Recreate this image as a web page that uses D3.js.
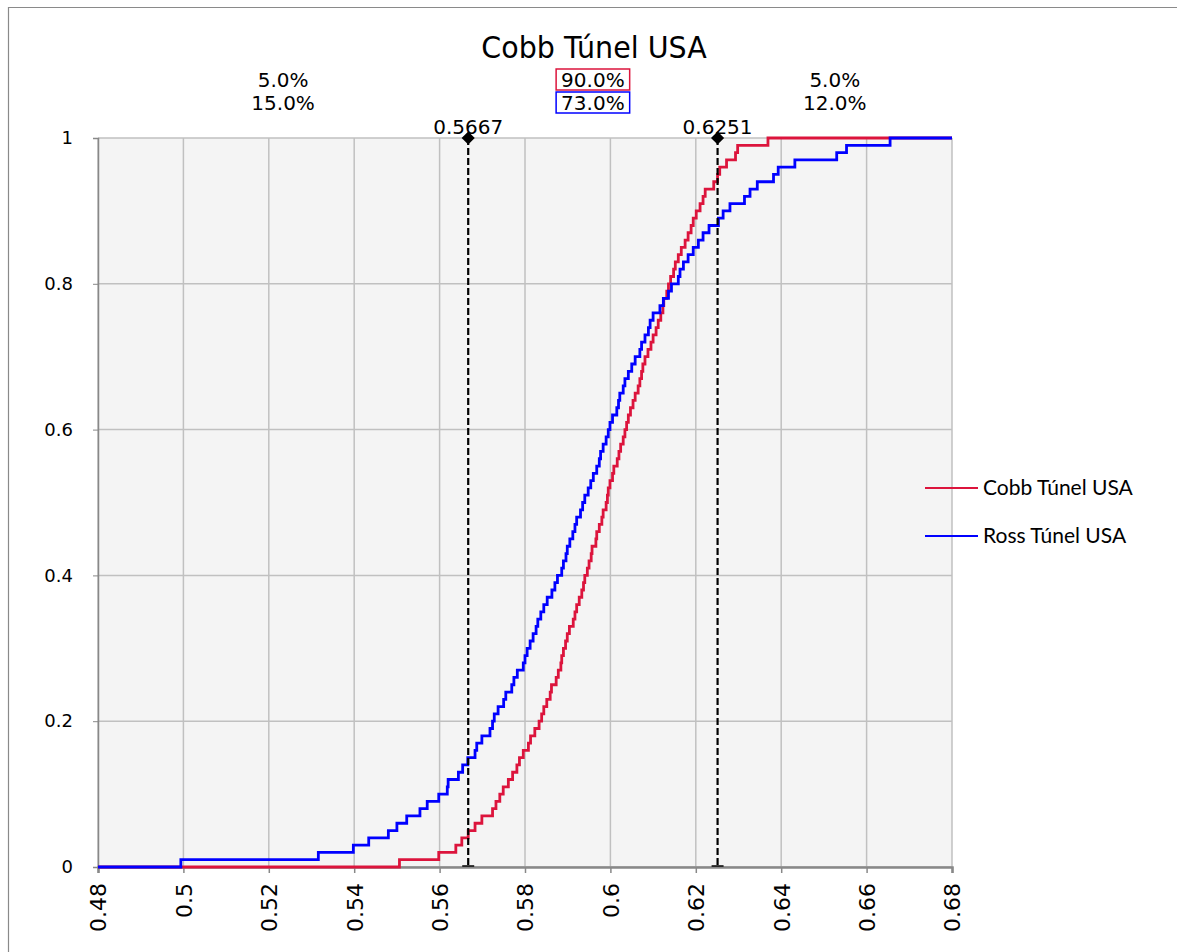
<!DOCTYPE html>
<html>
<head>
<meta charset="utf-8">
<script src="https://cdnjs.cloudflare.com/ajax/libs/d3/7.8.5/d3.min.js"></script>
<style>
  body { margin: 0; background: #fff; }
  svg { display: block; }
</style>
</head>
<body>
<script>
// chart title and series names
var chartTitle = "Cobb Túnel USA";
var seriesNames = ["Cobb Túnel USA", "Ross Túnel USA"];

// sorted sample values (100 each)
var cobbValues = [
  0.5506, 0.5598, 0.5638, 0.5652, 0.5667, 0.5683, 0.5699, 0.5724, 0.5732, 0.5741,
  0.5749, 0.5761, 0.5771, 0.5781, 0.5787, 0.5796, 0.5808, 0.5813, 0.5823, 0.5833,
  0.5839, 0.5844, 0.5851, 0.5859, 0.5862, 0.5873, 0.5878, 0.5884, 0.5886, 0.5890,
  0.5895, 0.5899, 0.5904, 0.5913, 0.5917, 0.5921, 0.5927, 0.5933, 0.5937, 0.5940,
  0.5946, 0.5950, 0.5955, 0.5957, 0.5966, 0.5968, 0.5974, 0.5980, 0.5983, 0.5990,
  0.5993, 0.5995, 0.5999, 0.6005, 0.6008, 0.6016, 0.6020, 0.6024, 0.6030, 0.6034,
  0.6038, 0.6042, 0.6047, 0.6053, 0.6058, 0.6065, 0.6069, 0.6073, 0.6076, 0.6081,
  0.6088, 0.6095, 0.6100, 0.6107, 0.6112, 0.6118, 0.6123, 0.6125, 0.6132, 0.6136,
  0.6141, 0.6148, 0.6152, 0.6159, 0.6166, 0.6175, 0.6182, 0.6189, 0.6194, 0.6201,
  0.6210, 0.6217, 0.6222, 0.6242, 0.6251, 0.6256, 0.6272, 0.6293, 0.6298, 0.6369
];
var rossValues = [
  0.4994, 0.5316, 0.5398, 0.5434, 0.5480, 0.5500, 0.5523, 0.5554, 0.5571, 0.5598,
  0.5618, 0.5620, 0.5644, 0.5654, 0.5666, 0.5683, 0.5687, 0.5699, 0.5718, 0.5724,
  0.5728, 0.5737, 0.5750, 0.5755, 0.5769, 0.5774, 0.5782, 0.5796, 0.5800, 0.5805,
  0.5812, 0.5819, 0.5826, 0.5830, 0.5837, 0.5844, 0.5852, 0.5863, 0.5870, 0.5876,
  0.5886, 0.5890, 0.5896, 0.5899, 0.5905, 0.5912, 0.5917, 0.5921, 0.5930, 0.5935,
  0.5940, 0.5948, 0.5954, 0.5960, 0.5968, 0.5974, 0.5977, 0.5983, 0.5990, 0.5995,
  0.5999, 0.6005, 0.6015, 0.6019, 0.6022, 0.6030, 0.6034, 0.6042, 0.6050, 0.6058,
  0.6069, 0.6073, 0.6081, 0.6089, 0.6093, 0.6100, 0.6116, 0.6124, 0.6136, 0.6143,
  0.6159, 0.6163, 0.6171, 0.6182, 0.6194, 0.6206, 0.6217, 0.6231, 0.6253, 0.6264,
  0.6280, 0.6314, 0.6327, 0.6344, 0.6382, 0.6393, 0.6432, 0.6530, 0.6553, 0.6655
];

// cut-off values and the shares below / between / above them
var cutValues = [0.5667, 0.6251];
var cobbShares = ["5.0%", "90.0%", "5.0%"];
var rossShares = ["15.0%", "73.0%", "12.0%"];

// tick values
var xTicks = [0.48, 0.5, 0.52, 0.54, 0.56, 0.58, 0.6, 0.62, 0.64, 0.66, 0.68];
var yTicks = [0, 0.2, 0.4, 0.6, 0.8, 1];

var cobbColor = "#dc143c",
    rossColor = "#0000ff";

var labelFont = "DejaVu Sans, Verdana, sans-serif";

// set the dimensions and margins of the plot
var W = 1177, H = 952;
var margin = {top: 138, left: 98},
    width = 854,
    height = 729;

var svg = d3.select("body").append("svg")
    .attr("width", W)
    .attr("height", H);

// outer frame of the chart object
svg.append("path")
    .attr("d", "M8.5," + H + "V7.5H" + W)
    .attr("fill", "none")
    .attr("stroke", "#8a8a8a")
    .attr("stroke-width", 1.2);

var g = svg.append("g")
    .attr("transform", "translate(" + margin.left + "," + margin.top + ")");

// set the ranges
var x = d3.scaleLinear().domain([0.48, 0.68]).range([0, width]);
var y = d3.scaleLinear().domain([0, 1]).range([height, 0]);

// plot background
g.append("rect")
    .attr("width", width)
    .attr("height", height)
    .attr("fill", "#f4f4f4");

// grid lines
g.append("g")
    .selectAll("line")
    .data(xTicks)
    .enter().append("line")
    .attr("x1", function(d) { return x(d); })
    .attr("x2", function(d) { return x(d); })
    .attr("y1", 0)
    .attr("y2", height)
    .attr("stroke", "#c0c0c0")
    .attr("stroke-width", 1.5);
g.append("g")
    .selectAll("line")
    .data(yTicks)
    .enter().append("line")
    .attr("x1", 0)
    .attr("x2", width)
    .attr("y1", function(d) { return y(d); })
    .attr("y2", function(d) { return y(d); })
    .attr("stroke", "#c0c0c0")
    .attr("stroke-width", 1.5);

var fmt = function(d) { return String(+d.toFixed(2)); };

// y axis
var yAxis = g.append("g")
    .call(d3.axisLeft(y).tickValues(yTicks).tickFormat(fmt).tickSize(5).tickPadding(20));
yAxis.select(".domain").attr("stroke", "#888").attr("stroke-width", 1.5);
yAxis.selectAll(".tick line").attr("stroke", "#888");
yAxis.selectAll("text")
    .attr("font-family", labelFont)
    .attr("font-size", 18)
    .attr("fill", "#000");

// x axis, labels turned upright
var xAxis = g.append("g")
    .attr("transform", "translate(0," + height + ")")
    .call(d3.axisBottom(x).tickValues(xTicks).tickFormat(fmt).tickSize(6));
xAxis.select(".domain").attr("stroke", "#888").attr("stroke-width", 2.5);
xAxis.selectAll(".tick line").attr("stroke", "#888").attr("stroke-width", 1.5);
xAxis.selectAll("text")
    .attr("font-family", labelFont)
    .attr("font-size", 22)
    .attr("fill", "#000")
    .attr("transform", "rotate(-90)")
    .attr("text-anchor", "end")
    .attr("x", -16)
    .attr("y", 0)
    .attr("dy", "0.36em");

// build the cumulative step points from the sorted samples
function cdfPoints(values) {
  var n = values.length;
  var pts = [[0.48, 0]];
  values.forEach(function(v, i) { pts.push([v, (i + 1) / n]); });
  pts.push([0.68, 1]);
  return pts;
}

var stepLine = d3.line()
    .x(function(d) { return x(d[0]); })
    .y(function(d) { return y(d[1]); })
    .curve(d3.curveStepAfter);

g.append("path")
    .datum(cdfPoints(cobbValues))
    .attr("fill", "none")
    .attr("stroke", cobbColor)
    .attr("stroke-width", 2.8)
    .attr("d", stepLine);
g.append("path")
    .datum(cdfPoints(rossValues))
    .attr("fill", "none")
    .attr("stroke", rossColor)
    .attr("stroke-width", 2.8)
    .attr("d", stepLine);

// cut-off dashed lines with diamond markers
var cuts = g.selectAll(".cut")
    .data(cutValues)
    .enter().append("g")
    .attr("class", "cut")
    .attr("transform", function(d) { return "translate(" + x(d) + ",0)"; });
cuts.append("line")
    .attr("y1", y(1))
    .attr("y2", y(0))
    .attr("stroke", "#000")
    .attr("stroke-width", 2.2)
    .attr("stroke-dasharray", "7,3");
cuts.append("line")
    .attr("x1", -6).attr("x2", 6)
    .attr("y1", y(0) - 1).attr("y2", y(0) - 1)
    .attr("stroke", "#000")
    .attr("stroke-width", 1.5);
cuts.append("path")
    .attr("d", d3.symbol().type(d3.symbolDiamond2).size(110))
    .attr("transform", "translate(0," + y(1) + ")")
    .attr("fill", "#000");
cuts.append("text")
    .attr("y", y(1) - 4)
    .attr("text-anchor", "middle")
    .attr("font-family", labelFont)
    .attr("font-size", 20)
    .attr("fill", "#000")
    .text(function(d) { return d.toFixed(4); });

// share labels over the three regions
var bounds = [0.48].concat(cutValues).concat([0.68]);
var rows = [cobbShares, rossShares];
var rowColors = [cobbColor, rossColor];
rows.forEach(function(shares, r) {
  var cy = -58 + r * 23;
  shares.forEach(function(s, i) {
    var cx = (x(bounds[i]) + x(bounds[i + 1])) / 2;
    var t = g.append("text")
        .attr("x", cx).attr("y", cy)
        .attr("dy", "0.36em")
        .attr("text-anchor", "middle")
        .attr("font-family", labelFont)
        .attr("font-size", 20)
        .attr("fill", "#000")
        .text(s);
    if (i === 1) {
      var b = t.node().getBBox();
      g.append("rect")
          .attr("x", b.x - 5).attr("y", cy - 11)
          .attr("width", b.width + 10).attr("height", 21)
          .attr("fill", "none")
          .attr("stroke", rowColors[r])
          .attr("stroke-width", 1.5);
    }
  });
});

// title
svg.append("text")
    .attr("transform", "translate(594,58) scale(0.92,1)")
    .attr("text-anchor", "middle")
    .attr("font-family", labelFont)
    .attr("font-size", 31)
    .attr("fill", "#000")
    .text(chartTitle);

// legend
var legend = svg.selectAll(".legend")
    .data(seriesNames)
    .enter().append("g")
    .attr("class", "legend")
    .attr("transform", function(d, i) { return "translate(925," + (488 + i * 48) + ")"; });
legend.append("line")
    .attr("x1", 0).attr("x2", 53)
    .attr("stroke", function(d, i) { return i === 0 ? cobbColor : rossColor; })
    .attr("stroke-width", 2);
legend.append("text")
    .attr("x", 58)
    .attr("dy", "0.35em")
    .attr("font-family", "Lato, Open Sans, sans-serif")
    .attr("font-size", 21)
    .attr("fill", "#000")
    .text(function(d) { return d; });
</script>
</body>
</html>
